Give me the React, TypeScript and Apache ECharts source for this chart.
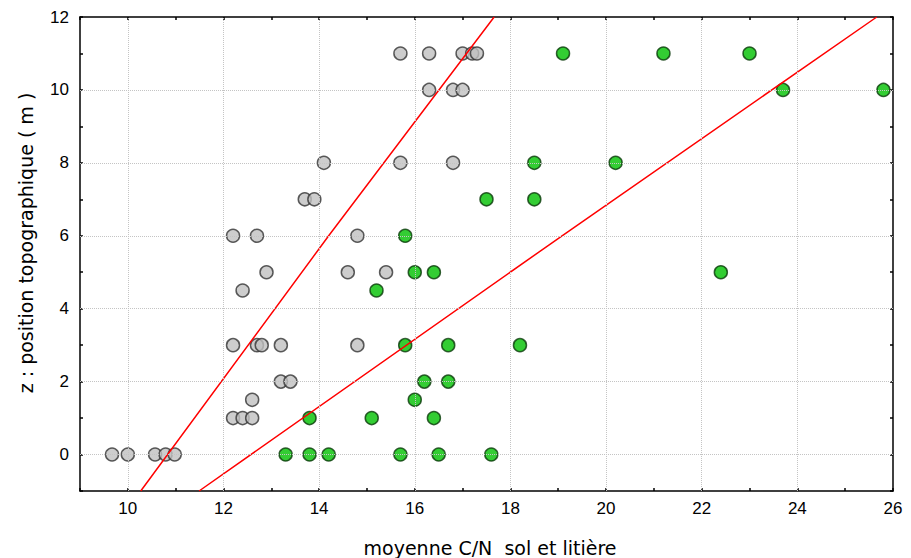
import { useEffect, useRef } from "react";
import * as echarts from "echarts";

// Gray points (x = moyenne C/N, y = position topographique)
const grayX = [15.7, 16.3, 17.0, 17.2, 17.3, 16.3, 16.8, 17.0, 14.1, 15.7, 16.8, 13.7, 13.9, 12.2, 12.7, 14.8, 12.9, 14.6, 15.4, 12.4, 12.2, 12.7, 12.8, 13.2, 14.8, 13.2, 13.4, 12.6, 12.2, 12.4, 12.6, 9.67, 10.0, 10.57, 10.79, 10.98];
const grayY = [11, 11, 11, 11, 11, 10, 10, 10, 8, 8, 8, 7, 7, 6, 6, 6, 5, 5, 5, 4.5, 3, 3, 3, 3, 3, 2, 2, 1.5, 1, 1, 1, 0, 0, 0, 0, 0];

// Green points
const greenX = [19.1, 21.2, 23.0, 23.7, 25.8, 18.5, 20.2, 17.5, 18.5, 15.8, 16.0, 16.4, 22.4, 15.2, 15.8, 16.7, 18.2, 16.2, 16.7, 16.0, 13.8, 15.1, 16.4, 13.3, 13.8, 14.2, 15.7, 16.5, 17.6];
const greenY = [11, 11, 11, 10, 10, 8, 8, 7, 7, 6, 5, 5, 5, 4.5, 3, 3, 3, 2, 2, 1.5, 1, 1, 1, 0, 0, 0, 0, 0, 0];

// Red lines
const line1X = [10.27, 14.2, 17.66];
const line1Y = [-1, 6, 12];
const line2X = [11.49, 19.08, 25.66];
const line2Y = [-1, 6, 12];

// Axes
const xMin = 9;
const xMax = 26;
const yMin = -1;
const yMax = 12;
const xGridLines = [10, 12, 14, 16, 18, 20, 22, 24];
const yGridLines = [0, 2, 4, 6, 8, 10];

const xTitle = "moyenne C/N  sol et litière";
const yTitle = "z : position topographique ( m )";

const zip = (xs: number[], ys: number[]) => xs.map((x, i) => [x, ys[i]]);

export default function App() {
  const ref = useRef<HTMLDivElement>(null);
  useEffect(() => {
    if (!ref.current) return;
    const chart = echarts.init(ref.current, null, { renderer: "svg" });
    const labelFont = { fontFamily: "Liberation Sans", fontSize: 17, color: "#000" };
    const titleFamily = "'Comic Sans MS', 'DejaVu Sans', sans-serif";
    const axisLine = { show: true, onZero: false, lineStyle: { color: "#000", width: 1.5 } };
    const axisTick = { show: true, inside: true, length: 3, lineStyle: { color: "#000", width: 1.5 } };
    const gridStyle = { color: "#c4c4c4", type: "dotted" as const, width: 1 };
    chart.setOption({
      animation: false,
      backgroundColor: "#fff",
      grid: { left: 80, right: 18, top: 17, bottom: 67, containLabel: false },
      graphic: [
        {
          type: "text",
          x: 490,
          y: 548,
          style: { text: xTitle, fontFamily: titleFamily, fontSize: 19, fill: "#000", align: "center", verticalAlign: "middle" },
        },
        {
          type: "text",
          x: 26,
          y: 243,
          rotation: Math.PI / 2,
          style: { text: yTitle, fontFamily: titleFamily, fontSize: 19, fill: "#000", align: "center", verticalAlign: "middle" },
        },
      ],
      xAxis: [
        {
          type: "value",
          min: xMin,
          max: xMax,
          interval: 1,
          position: "bottom",
          axisLine,
          axisTick,
          splitLine: { show: false },
          axisLabel: {
            ...labelFont,
            margin: 9,
            formatter: (v: number) => (v % 2 === 0 ? String(v) : ""),
          },
        },
        {
          type: "value",
          min: xMin,
          max: xMax,
          interval: 1,
          position: "top",
          axisLine,
          axisTick,
          splitLine: { show: false },
          axisLabel: { show: false },
        },
      ],
      yAxis: [
        {
          type: "value",
          min: yMin,
          max: yMax,
          interval: 1,
          position: "left",
          axisLine,
          axisTick,
          splitLine: { show: false },
          axisLabel: {
            ...labelFont,
            margin: 11,
            formatter: (v: number) => (v % 2 === 0 ? String(v) : ""),
          },
        },
        {
          type: "value",
          min: yMin,
          max: yMax,
          interval: 1,
          position: "right",
          axisLine,
          axisTick,
          splitLine: { show: false },
          axisLabel: { show: false },
        },
      ],
      series: [
        {
          type: "line",
          data: [],
          silent: true,
          markLine: {
            silent: true,
            symbol: "none",
            label: { show: false },
            lineStyle: gridStyle,
            data: [
              ...xGridLines.map((v) => ({ xAxis: v })),
              ...yGridLines.map((v) => ({ yAxis: v })),
            ],
          },
        },
        {
          type: "scatter",
          data: zip(grayX, grayY),
          symbol: "circle",
          symbolSize: 13,
          itemStyle: { color: "#c0c0c0", borderColor: "#333", borderWidth: 1.5 },
          z: 3,
        },
        {
          type: "scatter",
          data: zip(greenX, greenY),
          symbol: "circle",
          symbolSize: 13,
          itemStyle: { color: "#00c000", borderColor: "#0a3a0a", borderWidth: 1.5 },
          z: 3,
        },
        {
          type: "line",
          data: zip(line1X, line1Y),
          showSymbol: false,
          symbol: "none",
          lineStyle: { color: "#ff0000", width: 1.5 },
          z: 4,
        },
        {
          type: "line",
          data: zip(line2X, line2Y),
          showSymbol: false,
          symbol: "none",
          lineStyle: { color: "#ff0000", width: 1.5 },
          z: 4,
        },
      ],
    });
    return () => chart.dispose();
  }, []);
  return <div ref={ref} style={{ width: 911, height: 558, position: "absolute", left: 0, top: 0 }} />;
}
